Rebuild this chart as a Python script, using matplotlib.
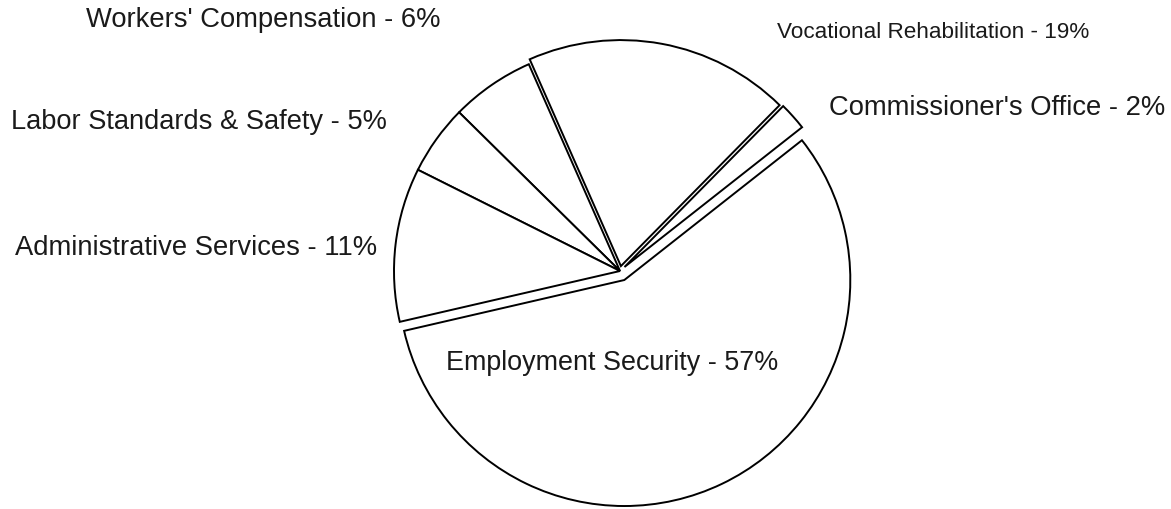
import numpy as np
import matplotlib
matplotlib.use("Agg")
import matplotlib.pyplot as plt

# budget shares, in the order the wedges are drawn (counter-clockwise)
divisions = ["Employment Security", "Commissioner's Office", "Vocational Rehabilitation",
             "Workers' Compensation", "Labor Standards & Safety", "Administrative Services"]
shares = [57, 2, 19, 6, 5, 11]

plt.rcParams['font.family'] = ['Liberation Sans', 'DejaVu Sans']

W, H = 1171, 509
fig = plt.figure(figsize=(W / 100, H / 100), dpi=100)
ax = fig.add_axes([0, 0, 1, 1])

# pixel based coordinates (y measured from the bottom)
cx, cy, r = 620, H - 271, 226
explode = [10, 6, 5, 0, 0, 0]

ax.pie(shares, explode=explode, startangle=193, counterclock=True,
       center=(cx, cy), radius=r, colors=['white'] * len(shares),
       wedgeprops=dict(edgecolor='black', linewidth=1.4))

ax.set_xlim(0, W)
ax.set_ylim(0, H)
ax.set_aspect('equal')
ax.axis('off')

# label placement (left x, centre y in pixels from the top) and font size
label_pos = {
    "Employment Security": (446, 363, 19.4),
    "Commissioner's Office": (829, 108, 19.7),
    "Vocational Rehabilitation": (777, 32, 16.2),
    "Workers' Compensation": (86, 20, 19.7),
    "Labor Standards & Safety": (11, 122, 19.6),
    "Administrative Services": (15, 248, 19.7),
}
for name, pct in zip(divisions, shares):
    x, y, fs = label_pos[name]
    ax.text(x, H - y, f"{name} - {pct}%", fontsize=fs, ha='left', va='center',
            color='#1a1a1a')

fig.savefig("out.png", dpi=100, facecolor='white')
